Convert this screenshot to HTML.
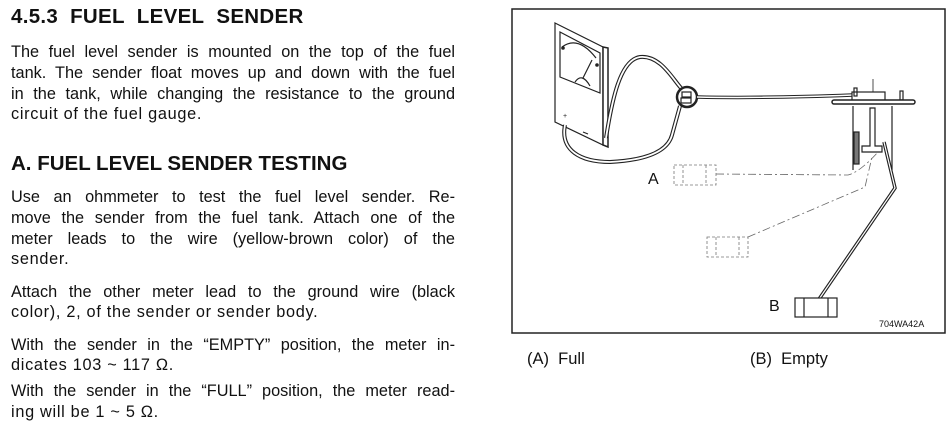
<!DOCTYPE html>
<html><head><meta charset="utf-8"><style>
html,body{margin:0;padding:0;background:#fff;}
body{width:951px;height:427px;position:relative;overflow:hidden;font-family:"Liberation Sans",Arial,sans-serif;color:#111;}
.l{position:absolute;left:11px;width:444px;font-size:16.3px;line-height:18px;white-space:nowrap;letter-spacing:0.7px;}
.j{text-align:justify;text-align-last:justify;white-space:normal;letter-spacing:0;}
.h{position:absolute;left:11px;font-weight:bold;font-size:20.5px;line-height:22px;white-space:nowrap;}
.c{position:absolute;font-size:16.5px;line-height:18px;}
</style></head><body>
<div class="h" style="top:6px;letter-spacing:0.3px;">4.5.3&nbsp; FUEL&nbsp; LEVEL&nbsp; SENDER</div>
<div class="l j" style="top:43px;">The fuel level sender is mounted on the top of the fuel</div>
<div class="l j" style="top:64px;">tank. The sender float moves up and down with the fuel</div>
<div class="l j" style="top:85px;">in the tank, while changing the resistance to the ground</div>
<div class="l" style="top:105px;">circuit of the fuel gauge.</div>
<div class="h" style="top:153px;">A. FUEL LEVEL SENDER TESTING</div>
<div class="l j" style="top:188px;">Use an ohmmeter to test the fuel level sender. Re-</div>
<div class="l j" style="top:209px;">move the sender from the fuel tank. Attach one of the</div>
<div class="l j" style="top:230px;">meter leads to the wire (yellow-brown color) of the</div>
<div class="l" style="top:250px;">sender.</div>
<div class="l j" style="top:283px;">Attach the other meter lead to the ground wire (black</div>
<div class="l" style="top:303px;">color), 2, of the sender or sender body.</div>
<div class="l j" style="top:336px;">With the sender in the “EMPTY” position, the meter in-</div>
<div class="l" style="top:356px;">dicates 103 ~ 117 Ω.</div>
<div class="l j" style="top:382px;">With the sender in the “FULL” position, the meter read-</div>
<div class="l" style="top:403px;">ing will be 1 ~ 5 Ω.</div>

<svg width="951" height="427" style="position:absolute;left:0;top:0" xmlns="http://www.w3.org/2000/svg">
<g fill="none" stroke="#222" stroke-width="1.2">
<rect x="512" y="9" width="433" height="324" stroke-width="1.5"/>
<polygon points="555,23 603,47 603,145 555,122" fill="#fff"/>
<polygon points="603,47 608,48 608,147 603,145" fill="#fff" stroke-width="1.5"/>
<polygon points="560,32 600,53 600,93 560,77"/>
<path d="M562,47 Q578,35 596,58"/>
<path d="M575,82 Q582,72 590,86"/>
<line x1="583" y1="78" x2="592" y2="60"/>
<circle cx="563" cy="48" r="1.2" fill="#222"/><circle cx="597" cy="65" r="1.2" fill="#222"/>
<text x="563" y="118" font-size="7" fill="#222" stroke="none">+</text>
<line x1="583" y1="132" x2="588" y2="134"/>
<path d="M606,138 C612,100 620,60 640,57 C660,55 672,78 681,88" stroke-width="4"/>
<path d="M606,138 C612,100 620,60 640,57 C660,55 672,78 681,88" stroke="#fff" stroke-width="1.8"/>
<path d="M565,125 C560,150 580,162 610,162 C650,160 668,150 672,135 L680,106" stroke-width="4"/>
<path d="M565,125 C560,150 580,162 610,162 C650,160 668,150 672,135 L680,106" stroke="#fff" stroke-width="1.8"/>
<circle cx="687" cy="97" r="10" stroke-width="2.5" fill="#fff"/>
<rect x="682" y="92" width="9" height="5"/><rect x="681" y="98" width="10" height="5"/>
<path d="M697,97 C740,98 800,97 853,95" stroke-width="3.5"/>
<path d="M697,97 C740,98 800,97 853,95" stroke="#fff" stroke-width="1.5"/>
<line x1="873" y1="79" x2="873" y2="93" stroke-width="0.8"/>
<rect x="852" y="92" width="33" height="9" fill="#fff"/>
<rect x="854" y="88" width="3" height="8"/><rect x="900" y="91" width="3" height="9"/>
<rect x="832" y="100" width="83" height="4" rx="2" fill="#fff" stroke-width="1.5"/>
<line x1="853" y1="106" x2="853" y2="170"/><line x1="892" y1="106" x2="892" y2="170"/>
<rect x="854" y="132" width="5" height="32" fill="#777"/>
<path d="M870,108 L870,146 L862,146 L862,152 L882,152 L882,146 L875,146 L875,108 Z" fill="#fff"/>
<path d="M884,142 L895,188 L815,305" stroke-width="3.5"/>
<path d="M884,142 L895,188 L815,305" stroke="#fff" stroke-width="1.2"/>
<rect x="795" y="298" width="42" height="19" fill="#fff"/>
<line x1="804" y1="298" x2="804" y2="317"/><line x1="828" y1="298" x2="828" y2="317"/>
<g stroke="#777" stroke-width="0.8" stroke-dasharray="3,2">
<rect x="674" y="165" width="42" height="20"/><line x1="683" y1="165" x2="683" y2="185"/><line x1="706" y1="165" x2="706" y2="185"/>
<rect x="707" y="237" width="41" height="20"/><line x1="716" y1="237" x2="716" y2="257"/><line x1="739" y1="237" x2="739" y2="257"/>
</g>
<g stroke="#666" stroke-width="0.8" stroke-dasharray="8,3,2,3">
<path d="M716,174 L848,175 Q860,172 878,152"/>
<path d="M748,237 L865,187 L872,157"/>
</g>
</g>
<g font-family="Liberation Sans,Arial,sans-serif" fill="#111">
<text x="648" y="184" font-size="16">A</text>
<text x="769" y="311" font-size="16">B</text>
<text x="879" y="327" font-size="9">704WA42A</text>
</g>
</svg>
<div class="c" style="left:527px;top:350px;">(A)&nbsp; Full</div>
<div class="c" style="left:750px;top:350px;">(B)&nbsp; Empty</div>
</body></html>
